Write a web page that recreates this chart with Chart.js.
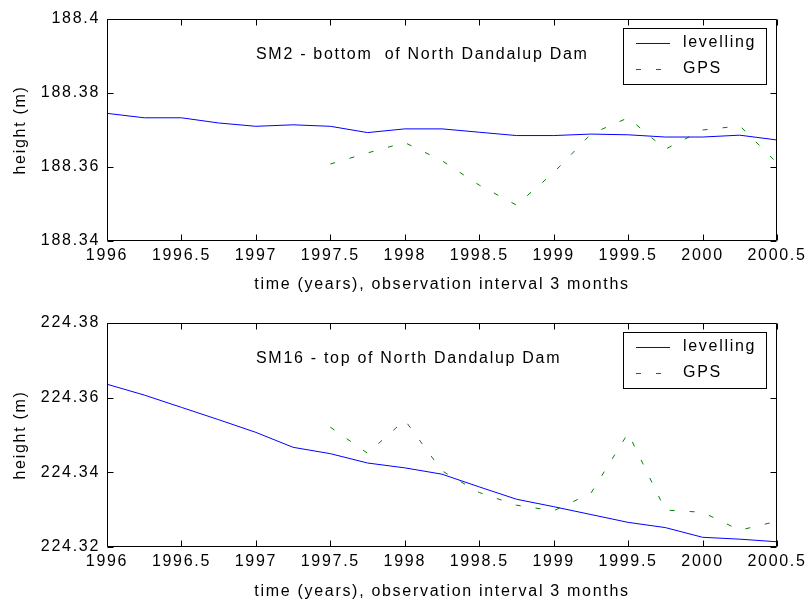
<!DOCTYPE html>
<html>
<head>
<meta charset="utf-8">
<script src="https://cdn.jsdelivr.net/npm/chart.js@4.4.1/dist/chart.umd.min.js"></script>
<style>
  body { margin: 0; background: #fff; }
  .plot { position: absolute; left: 0; width: 811px; }
</style>
</head>
<body>
<div class="plot" style="top:0;height:300px"><canvas id="sm2"></canvas></div>
<div class="plot" style="top:300px;height:301px"><canvas id="sm16"></canvas></div>
<script>
// epochs, every 3 months
const years = [1996, 1996.25, 1996.5, 1996.75, 1997, 1997.25, 1997.5, 1997.75, 1998, 1998.25,
  1998.5, 1998.75, 1999, 1999.25, 1999.5, 1999.75, 2000, 2000.25, 2000.5];

// SM2 - bottom of dam
const sm2Levelling = [188.3745, 188.3733, 188.3733, 188.3719, 188.3710, 188.3714, 188.3710, 188.3693,
  188.3703, 188.3703, 188.3694, 188.3685, 188.3685, 188.3689, 188.3687, 188.3681, 188.3681, 188.3686, 188.3673];
const sm2Gps = [null, null, null, null, null, null, 188.3608, 188.3638, 188.3666, 188.3617,
  188.3551, 188.3497, 188.3585, 188.3689, 188.3733, 188.3648, 188.3700, 188.3711, 188.3611];

// SM16 - top of dam
const sm16Levelling = [224.3636, 224.3607, 224.3574, 224.3541, 224.3507, 224.3467, 224.3450, 224.3425,
  224.3412, 224.3395, 224.3361, 224.3328, 224.3308, 224.3287, 224.3266, 224.3252, 224.3226, 224.3221, 224.3214];
const sm16Gps = [null, null, null, null, null, null, 224.3521, 224.3451, 224.3540, 224.3404,
  224.3346, 224.3312, 224.3297, 224.3344, 224.3505, 224.3299, 224.3293, 224.3245, 224.3269];

const xTicks = [1996, 1996.5, 1997, 1997.5, 1998, 1998.5, 1999, 1999.5, 2000, 2000.5];
const sm2Ticks = [188.34, 188.36, 188.38, 188.4];
const sm16Ticks = [224.32, 224.34, 224.36, 224.38];

const FONT = { family: '"Liberation Sans", Arial, sans-serif', size: 16 };
const SPACING = '1.7px';

// canvas resets its state on resize, so put the spacing back each time
const spacingPlugin = {
  id: 'spacing',
  beforeUpdate(chart) { chart.ctx.letterSpacing = SPACING; },
  beforeDraw(chart) { chart.ctx.letterSpacing = SPACING; }
};

// box round the axes, ticks pointing inwards, title and legend inside
const framePlugin = {
  id: 'frame',
  afterDraw(chart, args, opts) {
    const { ctx, chartArea: a, scales } = chart;
    const L = Math.round(a.left) + 0.5, R = Math.round(a.right) - 0.5;
    const T = Math.round(a.top) + 0.5, B = Math.round(a.bottom) - 0.5;
    ctx.save();
    ctx.letterSpacing = SPACING;
    ctx.strokeStyle = '#000';
    ctx.lineWidth = 1;
    ctx.setLineDash([]);
    ctx.beginPath();
    ctx.rect(L, T, R - L, B - T);
    for (const t of scales.x.ticks) {
      const px = Math.round(scales.x.getPixelForValue(t.value)) + 0.5;
      ctx.moveTo(px, B); ctx.lineTo(px, B - 6);
      ctx.moveTo(px, T); ctx.lineTo(px, T + 6);
    }
    for (const t of scales.y.ticks) {
      const py = Math.round(scales.y.getPixelForValue(t.value)) + 0.5;
      ctx.moveTo(L, py); ctx.lineTo(L + 6, py);
      ctx.moveTo(R, py); ctx.lineTo(R - 6, py);
    }
    ctx.stroke();

    ctx.fillStyle = '#000';
    ctx.font = FONT.size + 'px ' + FONT.family;
    ctx.textBaseline = 'middle';
    ctx.textAlign = 'left';
    ctx.fillText(opts.text, a.left + 149, a.top + 36);

    // legend
    const bx = a.left + 516, by = a.top + 9;
    ctx.strokeRect(Math.round(bx) + 0.5, Math.round(by) + 0.5, 143, 56);
    chart.data.datasets.forEach((ds, i) => {
      const y = by + 15 + i * 26;
      ctx.strokeStyle = ds.borderColor;
      ctx.setLineDash(ds.borderDash || []);
      ctx.beginPath();
      ctx.moveTo(bx + 13, y + 0.5);
      ctx.lineTo(bx + 47, y + 0.5);
      ctx.stroke();
      ctx.fillText(ds.label, bx + 60, y);
    });
    ctx.restore();
  }
};

function makeChart(id, levelling, gps, yTicks, title, plotTop, plotBottom, height, tickPad, titlePad) {
  const toPoints = vals => years.map((x, i) => ({ x, y: vals[i] }));
  return new Chart(document.getElementById(id), {
    type: 'line',
    data: {
      datasets: [{
        label: 'levelling',
        data: toPoints(levelling),
        borderColor: '#0000ff',
        borderWidth: 1
      }, {
        label: 'GPS',
        data: toPoints(gps),
        borderColor: '#008000',
        borderWidth: 1,
        borderDash: [5, 15]
      }]
    },
    options: {
      responsive: true,
      maintainAspectRatio: false,
      animation: false,
      elements: { point: { radius: 0 }, line: { tension: 0 } },
      layout: { padding: { top: plotTop, right: 34, left: 0, bottom: 0 } },
      plugins: {
        legend: { display: false },
        tooltip: { enabled: false },
        frame: { text: title }
      },
      scales: {
        x: {
          type: 'linear',
          min: 1996,
          max: 2000.5,
          grid: { display: false, drawTicks: false },
          border: { display: false },
          afterBuildTicks: s => { s.ticks = xTicks.map(value => ({ value })); },
          afterFit: s => { s.height = height - plotBottom; s.paddingLeft = 0; s.paddingRight = 0; },
          ticks: { color: '#000', font: FONT, padding: tickPad, maxRotation: 0, autoSkip: false,
            callback: v => String(v) },
          title: { display: true, text: 'time (years), observation interval 3 months', color: '#000',
            font: FONT, padding: { top: 0, bottom: titlePad } }
        },
        y: {
          min: yTicks[0],
          max: yTicks[yTicks.length - 1],
          grid: { display: false, drawTicks: false },
          border: { display: false },
          afterBuildTicks: s => { s.ticks = yTicks.map(value => ({ value })); },
          afterFit: s => { s.width = 107; s.paddingTop = 0; s.paddingBottom = 0; },
          ticks: { color: '#000', font: FONT, padding: 7, callback: v => String(Number(v.toFixed(2))) },
          title: { display: true, text: 'height (m)', color: '#000', font: FONT, padding: { top: 11, bottom: 0 } }
        }
      }
    },
    plugins: [spacingPlugin, framePlugin]
  });
}

makeChart('sm2', sm2Levelling, sm2Gps, sm2Ticks, 'SM2 - bottom  of North Dandalup Dam', 19, 241, 300, 5, 6);
makeChart('sm16', sm16Levelling, sm16Gps, sm16Ticks, 'SM16 - top of North Dandalup Dam', 23, 247, 301, 5, 0);
</script>
</body>
</html>
